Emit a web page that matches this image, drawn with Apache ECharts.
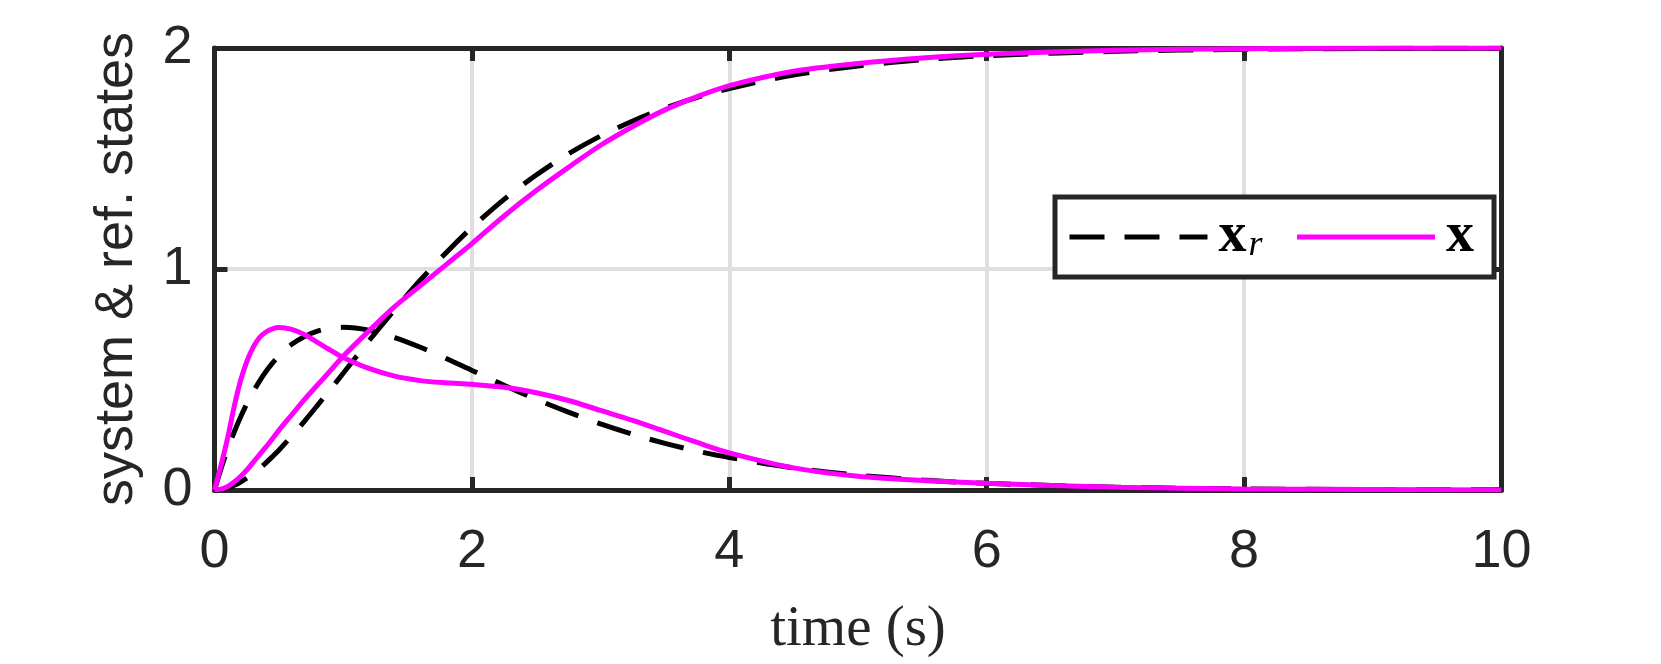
<!DOCTYPE html>
<html>
<head>
<meta charset="utf-8">
<script src="https://cdn.jsdelivr.net/npm/echarts@6/dist/echarts.min.js"></script>
<style>
  html, body { margin: 0; padding: 0; background: #fff; }
  #chart { width: 1661px; height: 664px; }
</style>
</head>
<body>
<div id="chart"></div>
<script>
// sample times (s)
var time = [0, 0.05, 0.1, 0.15, 0.2, 0.25, 0.3, 0.35, 0.4, 0.45, 0.5, 0.6, 0.7, 0.8, 0.9, 1.0,
  1.2, 1.4, 1.6, 1.8, 2.0, 2.25, 2.5, 2.75, 3.0, 3.25, 3.5, 3.75, 4.0,
  4.5, 5.0, 5.5, 6.0, 7, 8, 9, 10]

// reference states (dashed)
var xr1 = [0, 0.002, 0.009, 0.020, 0.035, 0.053, 0.074, 0.097, 0.123, 0.151, 0.180, 0.244, 0.312, 0.383, 0.455, 0.528,
  0.675, 0.816, 0.950, 1.074, 1.188, 1.315, 1.425, 1.521, 1.602, 1.670, 1.728, 1.777, 1.817,
  1.878, 1.919, 1.947, 1.965, 1.985, 1.994, 1.998, 1.999]
var xr2 = [0, 0.095, 0.181, 0.258, 0.327, 0.389, 0.444, 0.493, 0.536, 0.574, 0.607, 0.659, 0.695, 0.719, 0.732, 0.736,
  0.723, 0.690, 0.646, 0.595, 0.541, 0.474, 0.410, 0.352, 0.299, 0.252, 0.211, 0.176, 0.147,
  0.100, 0.067, 0.045, 0.030, 0.013, 0.005, 0.002, 0.001]

// system states (magenta)
var x1 = [0, 0.004, 0.015, 0.035, 0.06, 0.09, 0.125, 0.16, 0.195, 0.232, 0.27, 0.34, 0.41, 0.475, 0.54, 0.605,
  0.72, 0.83, 0.925, 1.02, 1.115, 1.24, 1.355, 1.46, 1.56, 1.645, 1.72, 1.78, 1.83,
  1.895, 1.93, 1.955, 1.972, 1.99, 1.997, 2.0, 2.0]
var x2 = [0, 0.11, 0.23, 0.37, 0.49, 0.58, 0.645, 0.69, 0.715, 0.729, 0.735, 0.727, 0.703, 0.668, 0.633, 0.60,
  0.55, 0.515, 0.495, 0.485, 0.478, 0.465, 0.44, 0.405, 0.36, 0.315, 0.265, 0.215, 0.168,
  0.10, 0.062, 0.043, 0.03, 0.012, 0.005, 0.002, 0]

var xTicks = [0, 2, 4, 6, 8, 10]
var yTicks = [0, 1, 2]

var axisColor = '#262626'
var gridColor = '#dfdfdf'

function pairs(vals) {
  return time.map(function (t, i) { return [t, vals[i]] })
}

function refSeries(vals) {
  return {
    name: 'x_r',
    type: 'line',
    symbol: 'none',
    smooth: 0.3,
    data: pairs(vals),
    lineStyle: { color: '#000000', width: 5, type: [35, 20] },
    itemStyle: { color: '#000000' }
  }
}

function sysSeries(vals) {
  return {
    name: 'x',
    type: 'line',
    symbol: 'none',
    smooth: 0.3,
    data: pairs(vals),
    lineStyle: { color: '#ff00ff', width: 5 },
    itemStyle: { color: '#ff00ff' }
  }
}

function frameAxis(extra) {
  return Object.assign({
    type: 'value',
    axisLine: { onZero: false, lineStyle: { color: axisColor, width: 5 } },
    axisTick: { inside: true, length: 13, lineStyle: { color: axisColor, width: 5 } },
    axisLabel: { show: false },
    splitLine: { show: false }
  }, extra)
}

var chart = echarts.init(document.getElementById('chart'), null, { renderer: 'canvas' })

var tickFont = { fontFamily: 'Liberation Sans', fontSize: 54, color: axisColor }

chart.setOption({
  backgroundColor: '#ffffff',
  animation: false,
  grid: {
    left: 214.5,
    right: 159.5,
    top: 48,
    bottom: 167
  },
  legend: {
    data: ['x_r', 'x'],
    left: 1055,
    top: 197,
    orient: 'horizontal',
    itemWidth: 138,
    itemHeight: 1,
    itemGap: 32,
    padding: [12, 20, 12, 12],
    borderColor: axisColor,
    borderWidth: 5,
    backgroundColor: '#ffffff',
    lineStyle: { width: 5 },
    formatter: function (name) {
      return name === 'x_r' ? '{b|x}{s|r}' : '{b|x}'
    },
    textStyle: {
      padding: [0, 0, 0, 6],
      rich: {
        b: { fontFamily: 'Liberation Serif', fontWeight: 'bold', fontSize: 56, color: '#000' },
        s: { fontFamily: 'Liberation Serif', fontStyle: 'italic', fontSize: 36, color: '#000', padding: [18, 0, 0, 2] }
      }
    }
  },
  xAxis: [frameAxis({
    min: 0,
    max: 10,
    interval: 2,
    name: 'time (s)',
    nameLocation: 'middle',
    nameGap: 112,
    nameTextStyle: { fontFamily: 'Liberation Serif', fontSize: 57, color: axisColor },
    axisLabel: Object.assign({ margin: 35, formatter: function (v) { return xTicks.indexOf(v) >= 0 ? String(v) : '' } }, tickFont),
    splitLine: { show: true, lineStyle: { color: gridColor, width: 4 } }
  }), frameAxis({
    position: 'top',
    min: 0,
    max: 10,
    interval: 2
  })],
  yAxis: [frameAxis({
    min: 0,
    max: 2,
    interval: 1,
    name: 'system & ref. states',
    nameLocation: 'middle',
    nameGap: 70,
    nameTextStyle: { fontFamily: 'Liberation Sans', fontSize: 54, color: axisColor },
    axisLabel: Object.assign({ margin: 22, formatter: function (v) { return yTicks.indexOf(v) >= 0 ? String(v) : '' } }, tickFont),
    splitLine: { show: true, lineStyle: { color: gridColor, width: 4 } }
  }), frameAxis({
    position: 'right',
    min: 0,
    max: 2,
    interval: 1
  })],
  series: [
    refSeries(xr1),
    refSeries(xr2),
    sysSeries(x1),
    sysSeries(x2)
  ]
})
</script>
</body>
</html>
